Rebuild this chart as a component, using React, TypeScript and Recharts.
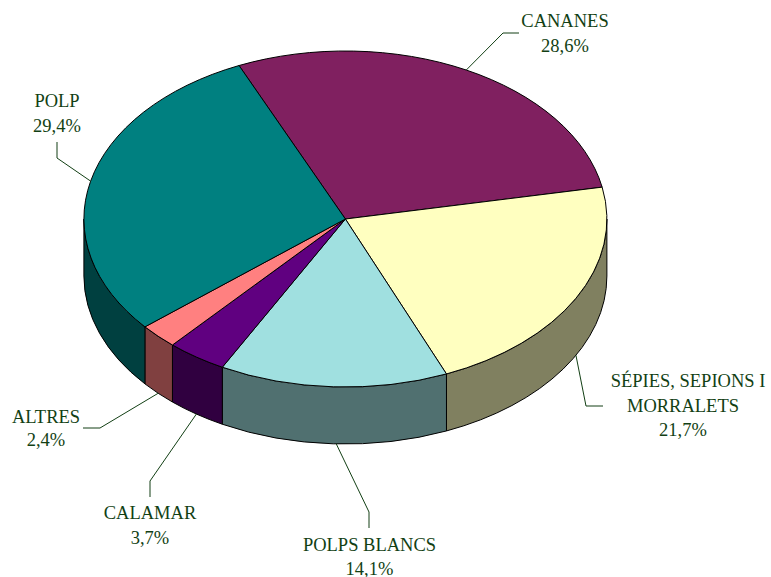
import { Pie, PieChart } from "recharts";

const categories = [
  "CANANES",
  "SÉPIES, SEPIONS I MORRALETS",
  "POLPS BLANCS",
  "CALAMAR",
  "ALTRES",
  "POLP",
];
const shares = [28.6, 21.7, 14.1, 3.7, 2.4, 29.4];
const topColors = ["#802060", "#FFFFC0", "#A0E0E0", "#600080", "#FF8080", "#008080"];
const wallColors = ["#401030", "#808060", "#507070", "#300040", "#804040", "#004040"];

// text lines per slice, the percentage is added from shares
const labelLines = [
  ["CANANES"],
  ["SÉPIES, SEPIONS I", "MORRALETS"],
  ["POLPS BLANCS"],
  ["CALAMAR"],
  ["ALTRES"],
  ["POLP"],
];

// where each label goes: text centre, first baseline, line gap, leader elbow and end
// firstDx: the long first line sits a bit right of the others, nudge: leader start
const labelLayout = [
  { x: 565, y: 27, gap: 25, firstDx: 0, nudge: 0, elbow: [503, 33], end: [519, 33] },
  { x: 683, y: 387, gap: 24.5, firstDx: 5, nudge: 0, elbow: [586, 406], end: [603, 406] },
  { x: 369.5, y: 551, gap: 23.5, firstDx: 0, nudge: 3, elbow: [369, 512], end: [369, 528] },
  { x: 150, y: 519, gap: 25, firstDx: 0, nudge: 0, elbow: [150, 481], end: [150, 497] },
  { x: 46, y: 423, gap: 23, firstDx: 0, nudge: 0, elbow: [100, 428], end: [83, 428] },
  { x: 57, y: 107, gap: 25, firstDx: 0, nudge: 0, elbow: [57, 158], end: [57, 142] },
];

const CX = 345.4;
const CY = 219;
const RX = 261.5;
const RY = 168;
const DEPTH = 57;
const TEXT = "#123f14";

const chartData = categories.map((name, i) => ({
  name,
  value: shares[i],
  top: topColors[i],
  wall: wallColors[i],
}));

const pt = (deg: number, dy = 0) => {
  const r = (deg * Math.PI) / 180;
  return [CX + RX * Math.cos(r), CY - RY * Math.sin(r) + dy];
};

function TopSlice(props: any) {
  const { startAngle, endAngle, index } = props;
  const a = pt(startAngle);
  const b = pt(endAngle);
  const large = Math.abs(startAngle - endAngle) > 180 ? 1 : 0;
  const d = `M${CX},${CY}L${a[0]},${a[1]}A${RX},${RY} 0 ${large} 1 ${b[0]},${b[1]}Z`;
  return <path d={d} fill={topColors[index]} stroke="#000" strokeWidth={1} />;
}

function WallSlice(props: any) {
  const { startAngle, endAngle, index } = props;
  // only the front half of the rim shows
  const hi = Math.min(startAngle, 0);
  const lo = Math.max(endAngle, -180);
  if (hi <= lo) return <g />;
  const a = pt(hi);
  const b = pt(lo);
  const c = pt(lo, DEPTH);
  const e = pt(hi, DEPTH);
  const d =
    `M${a[0]},${a[1]}A${RX},${RY} 0 0 1 ${b[0]},${b[1]}` +
    `L${c[0]},${c[1]}A${RX},${RY} 0 0 0 ${e[0]},${e[1]}Z`;
  return <path d={d} fill={wallColors[index]} stroke="#000" strokeWidth={1} />;
}

function SliceLabel(props: any) {
  const { index, midAngle } = props;
  const spot = labelLayout[index];
  const inFront = Math.sin((midAngle * Math.PI) / 180) < 0;
  const from = pt(midAngle, inFront ? DEPTH : 0);
  const lines = [...labelLines[index], `${shares[index].toFixed(1).replace(".", ",")}%`];
  return (
    <g>
      <polyline
        points={`${from[0] + spot.nudge},${from[1]} ${spot.elbow[0]},${spot.elbow[1]} ${spot.end[0]},${spot.end[1]}`}
        fill="none"
        stroke={TEXT}
        strokeWidth={1}
      />
      {lines.map((line, i) => (
        <text
          key={line}
          x={spot.x + (i === 0 ? spot.firstDx : 0)}
          y={spot.y + i * spot.gap}
          textAnchor="middle"
          fontFamily="'Liberation Serif', serif"
          fontSize={18.5}
          fill={TEXT}
        >
          {line}
        </text>
      ))}
    </g>
  );
}

export default function App() {
  return (
    <div style={{ position: "absolute", left: 0, top: 0, width: 771, height: 577 }}>
      <PieChart width={771} height={577} margin={{ top: 0, right: 0, bottom: 0, left: 0 }}>
        <Pie
          data={chartData}
          dataKey="value"
          nameKey="name"
          cx={CX}
          cy={CY}
          outerRadius={RX}
          startAngle={114}
          endAngle={-246}
          shape={WallSlice}
          label={false}
          labelLine={false}
          isAnimationActive={false}
        />
        <Pie
          data={chartData}
          dataKey="value"
          nameKey="name"
          cx={CX}
          cy={CY}
          outerRadius={RX}
          startAngle={114}
          endAngle={-246}
          shape={TopSlice}
          label={SliceLabel}
          labelLine={false}
          isAnimationActive={false}
        />
      </PieChart>
    </div>
  );
}
